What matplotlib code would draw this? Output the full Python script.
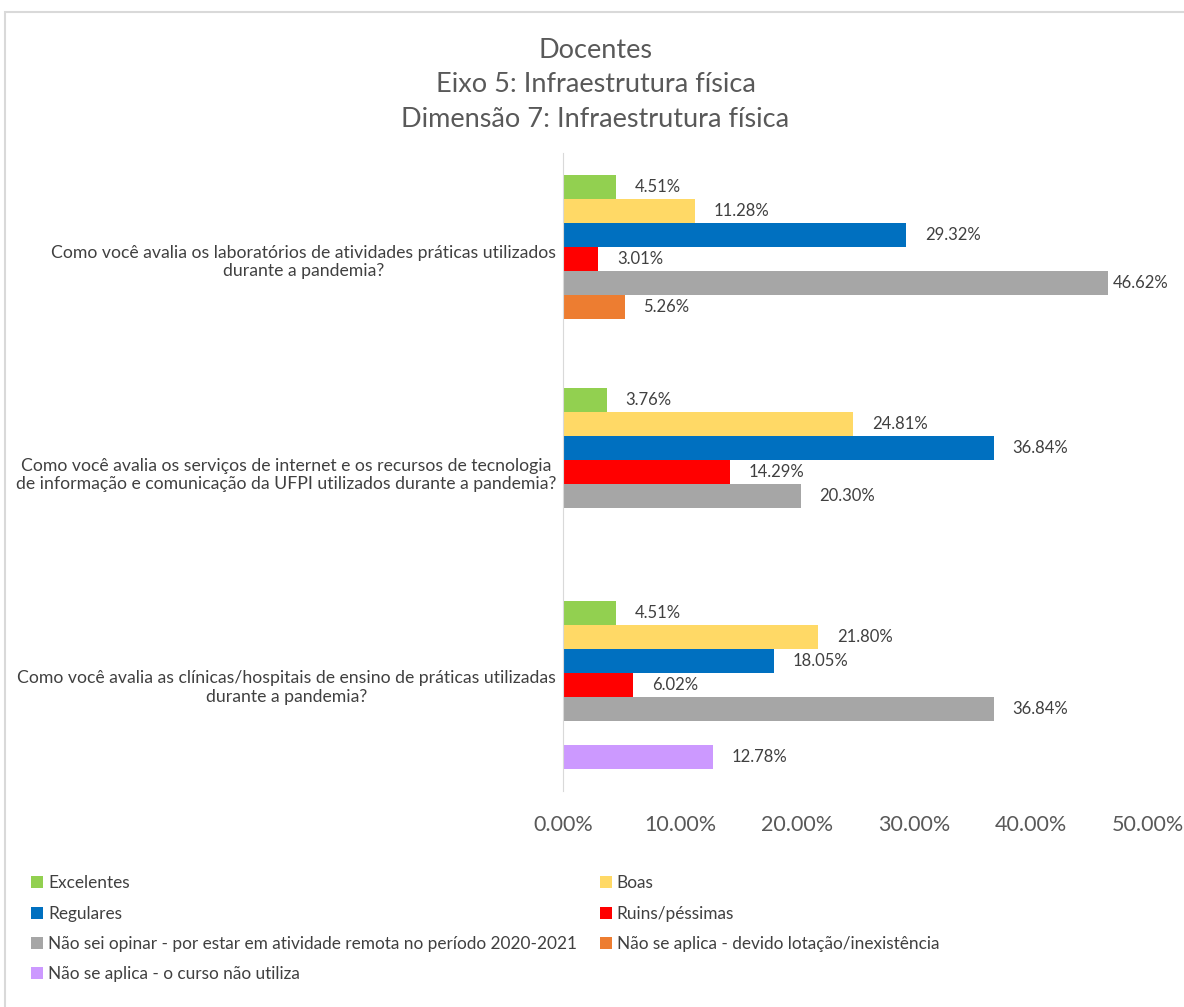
import matplotlib.pyplot as plt
from matplotlib.patches import Rectangle
import numpy as np

plt.rcParams['font.family'] = ['Lato', 'DejaVu Sans']

# questions (top to bottom)
questions = [
    "Como você avalia os laboratórios de atividades práticas utilizados\ndurante a pandemia?",
    "Como você avalia os serviços de internet e os recursos de tecnologia\nde informação e comunicação da UFPI utilizados durante a pandemia?",
    "Como você avalia as clínicas/hospitais de ensino de práticas utilizadas\ndurante a pandemia?",
]

series = [
    "Excelentes",
    "Boas",
    "Regulares",
    "Ruins/péssimas",
    "Não sei opinar - por estar em atividade remota no período 2020-2021",
    "Não se aplica - devido lotação/inexistência",
    "Não se aplica - o curso não utiliza",
]
colors = ["#92D050", "#FFD966", "#0070C0", "#FF0000", "#A6A6A6", "#ED7D31", "#CC99FF"]

# values per series, one per question (None = no bar)
excelentes = [4.51, 3.76, 4.51]
boas = [11.28, 24.81, 21.80]
regulares = [29.32, 36.84, 18.05]
ruins = [3.01, 14.29, 6.02]
nao_sei = [46.62, 20.30, 36.84]
nao_aplica_lotacao = [5.26, None, None]
nao_aplica_curso = [None, None, 12.78]

values = [excelentes, boas, regulares, ruins, nao_sei, nao_aplica_lotacao, nao_aplica_curso]

fig = plt.figure(figsize=(11.84, 10.07), dpi=100)
ax = fig.add_axes([0.4755, 0.2145, 0.9696 - 0.4755, 0.848 - 0.2145])

n = len(series)
h = 1 / (n + 1.85)
txt = "#404040"
handles = []
for k, (name, vals, c) in enumerate(zip(series, values, colors)):
    ys, xs = [], []
    for i, v in enumerate(vals):
        if v is None:
            continue
        ys.append(i + (k - 3) * h)
        xs.append(v)
    b = ax.barh(ys, xs, height=h, color=c, label=name)
    handles.append(b)
    for y, v in zip(ys, xs):
        # keep the last label inside the chart like Excel does
        ax.text(min(v + 1.6, 47.0), y, f"{v:.2f}%", va='center', ha='left',
                fontsize=12, color=txt)

ax.set_ylim(2.5, -0.5)
ax.set_xlim(0, 50)
ax.set_yticks(range(len(questions)))
ax.set_yticklabels(questions, fontsize=12.7, color=txt, multialignment='center')
ax.set_xticks(np.arange(0, 51, 10))
ax.set_xticklabels([f"{t:.2f}%" for t in np.arange(0, 51, 10)], fontsize=15.5, color="#595959")
ax.tick_params(axis='both', length=0)
ax.tick_params(axis='y', pad=5)
ax.tick_params(axis='x', pad=17)
for s in ['top', 'right', 'bottom']:
    ax.spines[s].set_visible(False)
ax.spines['left'].set_color("#D9D9D9")

title_lines = ["Docentes", "Eixo 5: Infraestrutura física", "Dimensão 7: Infraestrutura física"]
for ty, line in zip([0.950, 0.916, 0.881], title_lines):
    fig.text(0.503, ty, line, ha='center', va='center', fontsize=19.5, color="#595959")

# legend, row-wise order like the original
order = [0, 2, 4, 6, 1, 3, 5]
leg = fig.legend([handles[i] for i in order], [series[i] for i in order],
                 ncol=2, loc='upper left', bbox_to_anchor=(0.013, 0.146),
                 frameon=False, fontsize=12.4, handlelength=0.7, handleheight=0.7,
                 handletextpad=0.3, columnspacing=1.3, labelspacing=0.82,
                 labelcolor=txt)

fig.patches.append(Rectangle((0.004, -0.01), 1.0, 0.998, transform=fig.transFigure,
                             fill=False, edgecolor="#D9D9D9", linewidth=1.5))

fig.savefig("out.png", dpi=100)
